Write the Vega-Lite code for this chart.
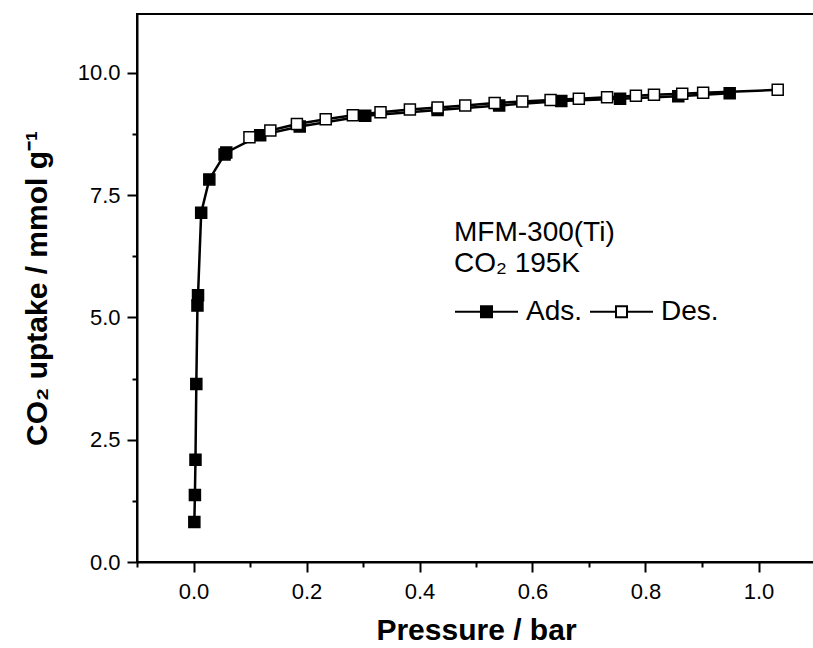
{
  "$schema": "https://vega.github.io/schema/vega-lite/v6.json",
  "width": 678,
  "height": 548,
  "autosize": {"type": "none"},
  "padding": {"left": 137, "top": 14, "right": 0, "bottom": 86},
  "background": "white",
  "config": {
    "font": "Liberation Sans",
    "view": {"stroke": "black", "strokeWidth": 2},
    "axis": {
      "domainColor": "black", "domainWidth": 2, "tickColor": "black", "tickWidth": 2,
      "labelColor": "black", "titleColor": "black", "grid": false,
      "labelFont": "Liberation Sans", "titleFont": "Liberation Sans",
      "labelFontSize": 22, "titleFontSize": 30, "titleFontWeight": "bold",
      "labelOverlap": false, "labelFlush": false
    }
  },
  "data": {
    "values": [
      {"series": "Ads.", "p": 0.0015, "u": 0.82},
      {"series": "Ads.", "p": 0.0025, "u": 1.37},
      {"series": "Ads.", "p": 0.0035, "u": 2.09},
      {"series": "Ads.", "p": 0.005, "u": 3.64},
      {"series": "Ads.", "p": 0.007, "u": 5.24},
      {"series": "Ads.", "p": 0.008, "u": 5.45},
      {"series": "Ads.", "p": 0.0136, "u": 7.14},
      {"series": "Ads.", "p": 0.028, "u": 7.82},
      {"series": "Ads.", "p": 0.055, "u": 8.33},
      {"series": "Ads.", "p": 0.058, "u": 8.37},
      {"series": "Ads.", "p": 0.118, "u": 8.72},
      {"series": "Ads.", "p": 0.188, "u": 8.9},
      {"series": "Ads.", "p": 0.304, "u": 9.12},
      {"series": "Ads.", "p": 0.432, "u": 9.24},
      {"series": "Ads.", "p": 0.541, "u": 9.33},
      {"series": "Ads.", "p": 0.651, "u": 9.42},
      {"series": "Ads.", "p": 0.755, "u": 9.47},
      {"series": "Ads.", "p": 0.858, "u": 9.52},
      {"series": "Ads.", "p": 0.949, "u": 9.58},
      {"series": "Des.", "p": 1.034, "u": 9.65},
      {"series": "Des.", "p": 0.902, "u": 9.59},
      {"series": "Des.", "p": 0.865, "u": 9.57},
      {"series": "Des.", "p": 0.815, "u": 9.55},
      {"series": "Des.", "p": 0.783, "u": 9.53},
      {"series": "Des.", "p": 0.732, "u": 9.5},
      {"series": "Des.", "p": 0.682, "u": 9.47},
      {"series": "Des.", "p": 0.632, "u": 9.44},
      {"series": "Des.", "p": 0.582, "u": 9.41},
      {"series": "Des.", "p": 0.533, "u": 9.38},
      {"series": "Des.", "p": 0.481, "u": 9.33},
      {"series": "Des.", "p": 0.432, "u": 9.29},
      {"series": "Des.", "p": 0.383, "u": 9.25},
      {"series": "Des.", "p": 0.331, "u": 9.19},
      {"series": "Des.", "p": 0.282, "u": 9.13},
      {"series": "Des.", "p": 0.234, "u": 9.05},
      {"series": "Des.", "p": 0.183, "u": 8.95},
      {"series": "Des.", "p": 0.136, "u": 8.82},
      {"series": "Des.", "p": 0.099, "u": 8.68}
    ]
  },
  "encoding": {
    "x": {
      "field": "p", "type": "quantitative",
      "scale": {"domain": [-0.1, 1.1], "nice": false, "zero": false},
      "axis": {
        "title": "Pressure / bar",
        "values": [-0.1, 0, 0.1, 0.2, 0.3, 0.4, 0.5, 0.6, 0.7, 0.8, 0.9, 1.0],
        "labelExpr": "abs(round(datum.value*10)) % 2 == 0 ? format(datum.value, '.1f') : ''",
        "tickSize": {"condition": {"test": "abs(round(datum.value*10)) % 2 == 0", "value": 10}, "value": 5},
        "labelPadding": 9,
        "titlePadding": 13
      }
    },
    "y": {
      "field": "u", "type": "quantitative",
      "scale": {"domain": [0, 11.2], "nice": false, "zero": false},
      "axis": {
        "title": "CO₂ uptake / mmol g⁻¹",
        "values": [0, 1.25, 2.5, 3.75, 5, 6.25, 7.5, 8.75, 10],
        "labelExpr": "round(datum.value*4) % 10 == 0 ? format(datum.value, '.1f') : ''",
        "tickSize": {"condition": {"test": "round(datum.value*4) % 10 == 0", "value": 10}, "value": 5},
        "labelPadding": 7,
        "titlePadding": 25
      }
    }
  },
  "layer": [
    {
      "mark": {"type": "line", "color": "black", "strokeWidth": 2.5},
      "encoding": {"detail": {"field": "series"}}
    },
    {
      "mark": {"type": "point", "shape": "square", "size": 121, "filled": true, "opacity": 1, "stroke": "black", "strokeWidth": 1.5},
      "encoding": {
        "fill": {
          "field": "series", "type": "nominal",
          "scale": {"domain": ["Ads.", "Des."], "range": ["black", "white"]},
          "legend": {
            "orient": "none", "legendX": 317, "legendY": 205, "direction": "horizontal",
            "title": ["MFM-300(Ti)", "CO₂ 195K"],
            "titleFontSize": 28, "titleFontWeight": "normal", "titleLineHeight": 31, "titlePadding": 1,
            "titleColor": "black", "titleFont": "Liberation Sans", "titleLimit": 400,
            "labelFontSize": 28, "labelFont": "Liberation Sans", "labelColor": "black", "labelOffset": 7, "labelLimit": 200,
            "symbolType": "M-1,0H-0.175M0.175,0H1M-0.175,-0.175H0.175V0.175H-0.175Z",
            "symbolSize": 3969, "symbolStrokeColor": "black", "symbolStrokeWidth": 2, "symbolOpacity": 1,
            "columnPadding": 3, "padding": 0
          }
        }
      }
    }
  ]
}
